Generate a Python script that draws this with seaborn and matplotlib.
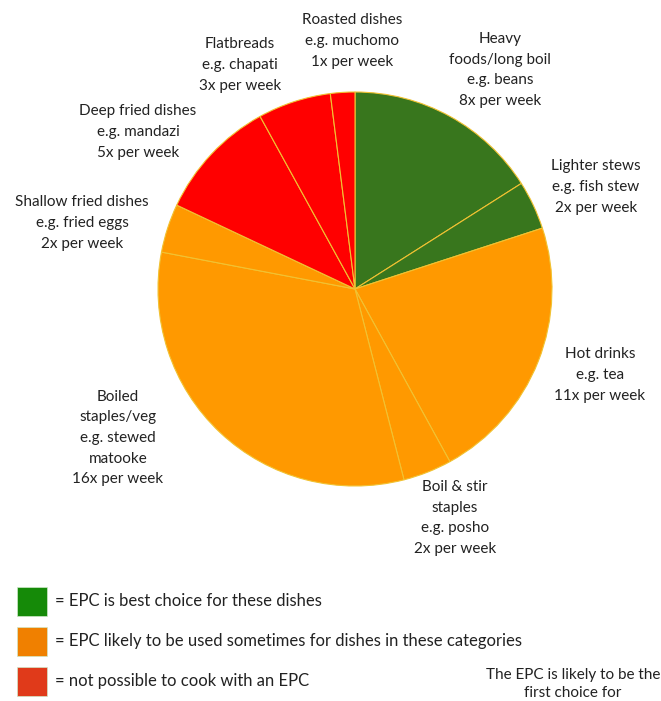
import matplotlib
matplotlib.use("Agg")
import matplotlib.pyplot as plt
import seaborn as sns
from matplotlib.patches import Rectangle

# ---- data ----
categories = ["Heavy\nfoods/long boil\ne.g. beans", "Lighter stews\ne.g. fish stew",
              "Hot drinks\ne.g. tea", "Boil & stir\nstaples\ne.g. posho",
              "Boiled\nstaples/veg\ne.g. stewed\nmatooke", "Shallow fried dishes\ne.g. fried eggs",
              "Deep fried dishes\ne.g. mandazi", "Flatbreads\ne.g. chapati",
              "Roasted dishes\ne.g. muchomo"]
per_week = [8, 2, 11, 2, 16, 2, 5, 3, 1]
groups = ["best", "best", "some", "some", "some", "some", "none", "none", "none"]
group_colors = {"best": "#38761d", "some": "#ff9900", "none": "#ff0000"}
legend_colors = ["#158a08", "#f08000", "#e03a1a"]
legend_texts = ["= EPC is best choice for these dishes",
                "= EPC likely to be used sometimes for dishes in these categories",
                "= not possible to cook with an EPC"]
# label centre positions in pixels (annotation layout)
label_pos = [(500, 70), (596, 187), (600, 375), (455, 518), (118, 438),
             (82, 223), (138, 132), (240, 65), (352, 41)]

sns.set_theme(style="white")
plt.rcParams['font.family'] = ['Lato', 'DejaVu Sans']

W, H = 661, 701
fig = plt.figure(figsize=(W / 100, H / 100), dpi=100)
cx, cy, r = 355, 289, 197
ax = fig.add_axes([(cx - r) / W, 1 - (cy + r) / H, 2 * r / W, 2 * r / H])
colors = [group_colors[g] for g in groups]
ax.pie(per_week, colors=colors, startangle=90, counterclock=False, radius=1,
       wedgeprops=dict(edgecolor="#f1c232", linewidth=0.8))
ax.set_xlim(-1, 1)
ax.set_ylim(-1, 1)
ax.set_aspect("equal")
ax.axis("off")

for cat, n, (px, py) in zip(categories, per_week, label_pos):
    fig.text(px / W, 1 - py / H, f"{cat}\n{n}x per week", ha="center", va="center",
             fontsize=11, color="#222222", linespacing=1.6)

# legend
for i, (c, t) in enumerate(zip(legend_colors, legend_texts)):
    y0 = 587 + i * 40
    fig.patches.append(Rectangle((17 / W, 1 - (y0 + 29) / H), 30 / W, 29 / H,
                                 transform=fig.transFigure, facecolor=c,
                                 edgecolor="#cfe8c8", linewidth=0.5))
    fig.text(55 / W, 1 - (y0 + 14) / H, t, ha="left", va="center", fontsize=12,
             color="#222222")

fig.text(573 / W, 1 - 668 / H, "The EPC is likely to be the\nfirst choice for",
         ha="center", va="top", fontsize=11, color="#222222", linespacing=1.4)

fig.savefig("out.png", dpi=100, facecolor="white")
